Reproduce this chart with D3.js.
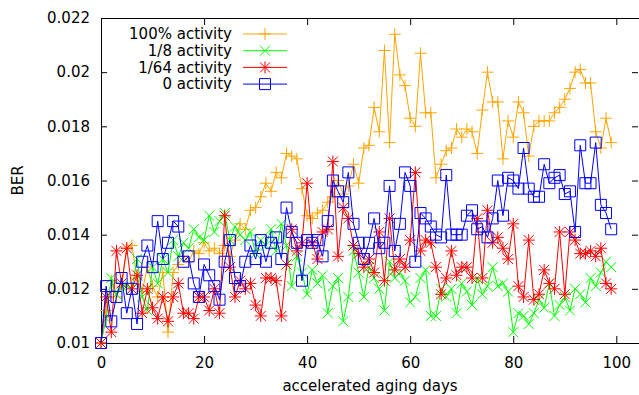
<!DOCTYPE html>
<html lang="en">
<head>
<meta charset="utf-8">
<title>BER vs accelerated aging days</title>
<script src="https://cdn.jsdelivr.net/npm/d3@7/dist/d3.min.js"></script>
<style>
  body { margin: 0; background: #fff; }
  svg text { font-family: "DejaVu Sans", sans-serif; font-size: 15px; fill: #000; }
</style>
</head>
<body>
<div id="chart"></div>
<script>
// one measurement per day, day 0 .. 99
const days = d3.range(0, 100);

const act100 = [
  0.0100, 0.0112, 0.0123, 0.0117, 0.0121, 0.0135, 0.0136, 0.0124, 0.0119, 0.0128,
  0.0121, 0.0117, 0.0126, 0.0104, 0.0126, 0.0129, 0.0132, 0.0130, 0.0134, 0.0133,
  0.0137, 0.0134, 0.0135, 0.0133, 0.0136, 0.0132, 0.0138, 0.0144, 0.0142, 0.0149,
  0.0150, 0.0154, 0.0159, 0.0156, 0.0163, 0.0161, 0.0170, 0.0169, 0.0168, 0.0157,
  0.0147, 0.0146, 0.0148, 0.0149, 0.0152, 0.0154, 0.0160, 0.0155, 0.0158, 0.0166,
  0.0159, 0.0172, 0.0173, 0.0187, 0.0178, 0.0208, 0.0174, 0.0214, 0.0199, 0.0195,
  0.0183, 0.0180, 0.0207, 0.0185, 0.0185, 0.0161, 0.0166, 0.0171, 0.0172, 0.0179,
  0.0176, 0.0179, 0.0178, 0.0170, 0.0186, 0.0200, 0.0189, 0.0189, 0.0168, 0.0182,
  0.0176, 0.0189, 0.0185, 0.0169, 0.0180, 0.0182, 0.0182, 0.0182, 0.0185, 0.0187,
  0.0190, 0.0194, 0.0200, 0.0201, 0.0196, 0.0196, 0.0178, 0.0172, 0.0183, 0.0174
];

const act8 = [
  0.0100, 0.0109, 0.0124, 0.0118, 0.0121, 0.0121, 0.0120, 0.0131, 0.0117, 0.0112,
  0.0128, 0.0122, 0.0131, 0.0126, 0.0138, 0.0132, 0.0137, 0.0135, 0.0142, 0.0139,
  0.0138, 0.0147, 0.0141, 0.0145, 0.0148, 0.0138, 0.0143, 0.0140, 0.0138, 0.0141,
  0.0133, 0.0138, 0.0136, 0.0142, 0.0134, 0.0144, 0.0136, 0.0121, 0.0132, 0.0126,
  0.0118, 0.0127, 0.0122, 0.0125, 0.0111, 0.0121, 0.0124, 0.0108, 0.0117, 0.0134,
  0.0126, 0.0117, 0.0128, 0.0124, 0.0120, 0.0112, 0.0130, 0.0124, 0.0126, 0.0123,
  0.0115, 0.0117, 0.0124, 0.0127, 0.0110, 0.0110, 0.0120, 0.0117, 0.0120, 0.0111,
  0.0122, 0.0119, 0.0114, 0.0124, 0.0118, 0.0121, 0.0128, 0.0121, 0.0122, 0.0119,
  0.0104, 0.0111, 0.0110, 0.0107, 0.0111, 0.0116, 0.0113, 0.0122, 0.0110, 0.0114,
  0.0117, 0.0112, 0.0120, 0.0118, 0.0115, 0.0124, 0.0121, 0.0126, 0.0130, 0.0128
];

const act64 = [
  0.0100, 0.0117, 0.0104, 0.0134, 0.0122, 0.0135, 0.0120, 0.0125, 0.0111, 0.0120,
  0.0113, 0.0109, 0.0117, 0.0108, 0.0117, 0.0122, 0.0111, 0.0111, 0.0109, 0.0117,
  0.0117, 0.0112, 0.0120, 0.0111, 0.0147, 0.0128, 0.0117, 0.0123, 0.0120, 0.0122,
  0.0114, 0.0110, 0.0124, 0.0124, 0.0123, 0.0110, 0.0129, 0.0142, 0.0134, 0.0137,
  0.0159, 0.0137, 0.0131, 0.0141, 0.0142, 0.0167, 0.0132, 0.0150, 0.0146, 0.0136,
  0.0133, 0.0128, 0.0131, 0.0126, 0.0141, 0.0123, 0.0146, 0.0127, 0.0131, 0.0128,
  0.0138, 0.0163, 0.0134, 0.0138, 0.0137, 0.0128, 0.0118, 0.0124, 0.0134, 0.0125,
  0.0128, 0.0128, 0.0124, 0.0146, 0.0124, 0.0149, 0.0137, 0.0139, 0.0135, 0.0131,
  0.0144, 0.0121, 0.0117, 0.0138, 0.0116, 0.0118, 0.0127, 0.0122, 0.0120, 0.0141,
  0.0118, 0.0141, 0.0138, 0.0133, 0.0133, 0.0134, 0.0132, 0.0135, 0.0122, 0.0120
];

const act0 = [
  0.0100, 0.0121, 0.0108, 0.0117, 0.0124, 0.0111, 0.0120, 0.0107, 0.0130, 0.0136,
  0.0128, 0.0145, 0.0131, 0.0137, 0.0145, 0.0143, 0.0130, 0.0132, 0.0122, 0.0117,
  0.0129, 0.0125, 0.0121, 0.0116, 0.0130, 0.0138, 0.0124, 0.0121, 0.0130, 0.0136,
  0.0131, 0.0138, 0.0130, 0.0137, 0.0139, 0.0131, 0.0150, 0.0141, 0.0137, 0.0123,
  0.0138, 0.0137, 0.0138, 0.0132, 0.0145, 0.0160, 0.0156, 0.0152, 0.0163, 0.0144,
  0.0137, 0.0131, 0.0137, 0.0146, 0.0135, 0.0137, 0.0158, 0.0134, 0.0144, 0.0163,
  0.0158, 0.0130, 0.0148, 0.0146, 0.0143, 0.0140, 0.0139, 0.0162, 0.0140, 0.0140,
  0.0140, 0.0147, 0.0149, 0.0142, 0.0143, 0.0139, 0.0146, 0.0160, 0.0147, 0.0161,
  0.0160, 0.0157, 0.0172, 0.0157, 0.0154, 0.0154, 0.0166, 0.0159, 0.0161, 0.0162,
  0.0155, 0.0156, 0.0141, 0.0173, 0.0159, 0.0159, 0.0174, 0.0151, 0.0148, 0.0142
];

const seriesNames = ["100% activity", "1/8 activity", "1/64 activity", "0 activity"];
const xTicks = [0, 20, 40, 60, 80, 100];
const yTicks = [0.01, 0.012, 0.014, 0.016, 0.018, 0.02, 0.022];

var width = 639, height = 395;
var margin = { left: 101, right: 639, top: 18, bottom: 343 };

var series = [
  { name: seriesNames[0], values: act100, color: "#ffa500", mark: "plus" },
  { name: seriesNames[1], values: act8,   color: "#00ff00", mark: "cross" },
  { name: seriesNames[2], values: act64,  color: "#ff0000", mark: "star" },
  { name: seriesNames[3], values: act0,   color: "#0000ff", mark: "square" }
];

var x = d3.scaleLinear().domain([0, 104.4]).range([margin.left, margin.right]);
var y = d3.scaleLinear().domain([0.01, 0.022]).range([margin.bottom, margin.top]);

var svg = d3.select("#chart").append("svg")
  .attr("width", width)
  .attr("height", height);

// gnuplot style point shapes
function markPath(type, cx, cy) {
  var p = d3.path();
  if (type == "plus" || type == "star") {
    p.moveTo(cx - 6, cy); p.lineTo(cx + 6, cy);
    p.moveTo(cx, cy - 6); p.lineTo(cx, cy + 6);
  }
  if (type == "cross" || type == "star") {
    p.moveTo(cx - 5, cy - 5); p.lineTo(cx + 5, cy + 5);
    p.moveTo(cx - 5, cy + 5); p.lineTo(cx + 5, cy - 5);
  }
  if (type == "square") {
    p.rect(cx - 5.5, cy - 5.5, 11, 11);
  }
  return p.toString();
}

// axes, ticks pointing into the plot
svg.append("g")
  .attr("transform", "translate(0," + margin.bottom + ")")
  .call(d3.axisBottom(x).tickValues(xTicks).tickSize(-7).tickPadding(14).tickFormat(d3.format("d")))
  .call(g => g.select(".domain").remove());

svg.append("g")
  .attr("transform", "translate(0," + margin.top + ")")
  .call(d3.axisTop(x).tickValues(xTicks).tickSize(-7).tickFormat(""))
  .call(g => g.select(".domain").remove());

svg.append("g")
  .attr("transform", "translate(" + margin.left + ",0)")
  .call(d3.axisLeft(y).tickValues(yTicks).tickSize(-6).tickPadding(11).tickFormat(d3.format("~g")))
  .call(g => g.select(".domain").remove());

svg.append("g")
  .attr("transform", "translate(" + (margin.right - 1) + ",0)")
  .call(d3.axisRight(y).tickValues(yTicks).tickSize(-6).tickFormat(""))
  .call(g => g.select(".domain").remove());

svg.selectAll(".tick line").attr("stroke", "#000");
svg.selectAll(".tick text").style("font-size", "15px").style("font-family", "DejaVu Sans, sans-serif");

// border
svg.append("rect")
  .attr("x", margin.left + 0.5).attr("y", margin.top + 0.5)
  .attr("width", margin.right - margin.left).attr("height", margin.bottom - margin.top)
  .attr("fill", "none").attr("stroke", "#000").attr("stroke-width", 1);

// axis titles
svg.append("text")
  .attr("transform", "translate(18," + ((margin.top + margin.bottom) / 2) + ") rotate(-90)")
  .attr("text-anchor", "middle")
  .attr("dy", "0.35em")
  .text("BER");

svg.append("text")
  .attr("x", (margin.left + margin.right) / 2)
  .attr("y", 391)
  .attr("text-anchor", "middle")
  .text("accelerated aging days");

// data
var line = d3.line()
  .x(function (d, i) { return x(days[i]); })
  .y(function (d) { return y(d); });

var plot = svg.append("g");

series.forEach(function (s) {
  var g = plot.append("g");
  g.append("path")
    .attr("d", line(s.values))
    .attr("fill", "none")
    .attr("stroke", s.color)
    .attr("stroke-width", 1);
  g.selectAll("path.mark")
    .data(s.values)
    .enter()
    .append("path")
    .attr("class", "mark")
    .attr("d", function (d, i) { return markPath(s.mark, x(days[i]), y(d)); })
    .attr("fill", "none")
    .attr("stroke", s.color)
    .attr("stroke-width", 1);
});

// legend
var legend = svg.append("g");
series.forEach(function (s, i) {
  var ly = 34 + i * 16.7;
  legend.append("text")
    .attr("x", 232)
    .attr("y", ly)
    .attr("dy", "0.35em")
    .attr("text-anchor", "end")
    .text(s.name);
  legend.append("line")
    .attr("x1", 243).attr("x2", 287)
    .attr("y1", ly).attr("y2", ly)
    .attr("stroke", s.color);
  legend.append("path")
    .attr("d", markPath(s.mark, 265, ly))
    .attr("fill", "none")
    .attr("stroke", s.color);
});
</script>
</body>
</html>
